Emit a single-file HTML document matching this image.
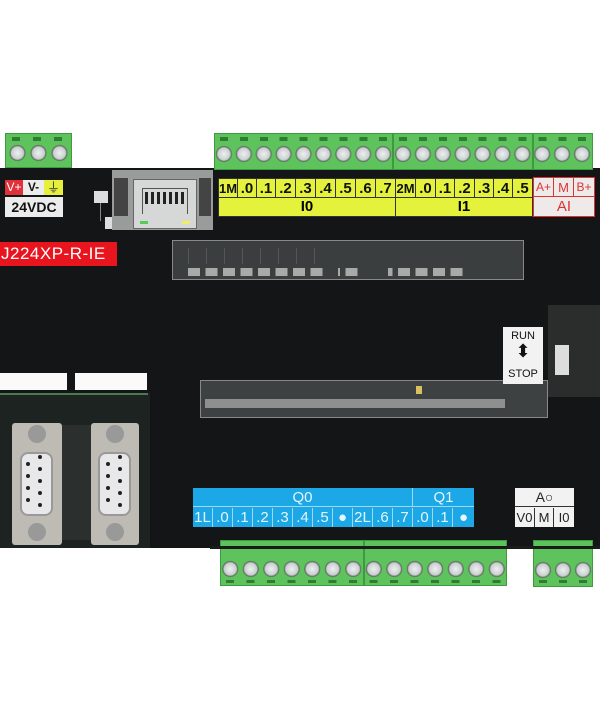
<!DOCTYPE html>
<html><head><meta charset="utf-8"><style>
body{margin:0;width:600px;height:720px;background:#fff;position:relative;overflow:hidden;font-family:"Liberation Sans",sans-serif}
div{position:absolute;box-sizing:border-box}
.term{background-color:#5fc35d;border:1px solid #3d9a3e}
.screws{background-image:radial-gradient(circle,#eef0f0 0,#c9cfd0 6px,#5d6d5d 7.5px,rgba(0,0,0,0) 8.5px);background-repeat:repeat-x}
.slots{background-repeat:repeat-x}
.cell{border-right:1px solid #333;text-align:center;font-weight:bold;color:#111;font-size:15px;top:0;height:100%}
.bc{color:#e6f6ff;font-size:15px;text-align:center;border-right:1px solid #9fd8f5;top:0;height:100%;line-height:19px}
.pcb{border:1px solid #888}
.pin{width:4px;height:4px;border-radius:50%;background:#222}
</style></head><body>
<!-- board -->
<div style="left:0;top:168px;width:600px;height:380px;background:#131516"></div>
<!-- top terminals -->
<div class="term" style="left:5px;top:133px;width:67px;height:35px"></div>
<div class="slots" style="left:5px;top:137px;width:67px;height:4px;background-image:repeating-linear-gradient(90deg,transparent 0 7px,#2f7d30 7px 15px,transparent 15px 21px)"></div>
<div class="screws" style="left:5px;top:143px;width:67px;height:20px;background-size:21px 20px;background-position:2px 0"></div>
<div class="term" style="left:214px;top:133px;width:179px;height:37px"></div>
<div class="term" style="left:393px;top:133px;width:140px;height:37px"></div>
<div class="term" style="left:533px;top:133px;width:60px;height:37px"></div>
<div class="slots" style="left:214px;top:137px;width:379px;height:4px;background-image:repeating-linear-gradient(90deg,transparent 0 6px,#2f7d30 6px 14px,transparent 14px 19.9px)"></div>
<div class="screws" style="left:214px;top:144px;width:379px;height:20px;background-size:19.9px 20px"></div>
<!-- power labels -->
<div style="left:5px;top:180px;width:18px;height:15px;background:#e0303a;color:#fff;font-size:12px;text-align:center;line-height:15px">V+</div>
<div style="left:23px;top:180px;width:21px;height:15px;background:#ececec;color:#111;font-size:12px;font-weight:bold;text-align:center;line-height:15px">V-</div>
<div style="left:44px;top:180px;width:19px;height:15px;background:#e6f03c;color:#333;font-size:13px;text-align:center;line-height:15px">⏚</div>
<div style="left:5px;top:197px;width:58px;height:20px;background:#ececec;color:#111;font-size:14px;font-weight:bold;text-align:center;line-height:20px">24VDC</div>
<!-- squares -->
<div style="left:94px;top:191px;width:14px;height:12px;background:#ddd"></div>
<div style="left:105px;top:217px;width:13px;height:12px;background:#ddd"></div>
<div style="left:100px;top:203px;width:1px;height:18px;background:#888"></div>
<!-- RJ45 -->
<div style="left:112px;top:170px;width:101px;height:60px;background:#9a9c9c"></div>
<div style="left:114px;top:178px;width:14px;height:38px;background:#444"></div>
<div style="left:199px;top:178px;width:12px;height:38px;background:#444"></div>
<div style="left:133px;top:179px;width:64px;height:50px;background:#d6d8d8;border:1px solid #666"></div>
<div style="left:142px;top:188px;width:46px;height:26px;border:1px solid #555;border-bottom:none;background-image:repeating-linear-gradient(90deg,#222 0 3px,transparent 3px 6px);background-size:46px 12px;background-repeat:no-repeat;background-position:2px 3px"></div>
<div style="left:140px;top:221px;width:8px;height:3px;background:#5c5"></div>
<div style="left:182px;top:221px;width:8px;height:3px;background:#ee6"></div>
<!-- I0/I1 labels -->
<div style="left:218px;top:178px;width:315px;height:39px;background:#e4f23c;border:1px solid #333">
 <div style="left:0;top:0;width:100%;height:19px;border-bottom:1px solid #333">
  <div class="cell" style="left:0;width:19px;font-size:13px;line-height:19px">1M</div>
  <div class="cell" style="left:19px;width:19px;line-height:19px">.0</div>
  <div class="cell" style="left:38px;width:19px;line-height:19px">.1</div>
  <div class="cell" style="left:57px;width:20px;line-height:19px">.2</div>
  <div class="cell" style="left:77px;width:20px;line-height:19px">.3</div>
  <div class="cell" style="left:97px;width:20px;line-height:19px">.4</div>
  <div class="cell" style="left:117px;width:20px;line-height:19px">.5</div>
  <div class="cell" style="left:137px;width:20px;line-height:19px">.6</div>
  <div class="cell" style="left:157px;width:20px;line-height:19px">.7</div>
  <div class="cell" style="left:177px;width:20px;font-size:13px;line-height:19px">2M</div>
  <div class="cell" style="left:197px;width:20px;line-height:19px">.0</div>
  <div class="cell" style="left:217px;width:19px;line-height:19px">.1</div>
  <div class="cell" style="left:236px;width:20px;line-height:19px">.2</div>
  <div class="cell" style="left:256px;width:19px;line-height:19px">.3</div>
  <div class="cell" style="left:275px;width:19px;line-height:19px">.4</div>
  <div class="cell" style="left:294px;width:19px;border:none;line-height:19px">.5</div>
 </div>
 <div style="left:0;top:19px;width:177px;height:18px;border-right:1px solid #333;text-align:center;font-weight:bold;font-size:15px;line-height:18px">I0</div>
 <div style="left:177px;top:19px;width:136px;height:18px;text-align:center;font-weight:bold;font-size:15px;line-height:18px">I1</div>
</div>
<div style="left:533px;top:177px;width:62px;height:40px;background:#eeeaea;border:1px solid #d33;color:#d33">
 <div style="left:0;top:0;width:20px;height:19px;border-right:1px solid #d33;border-bottom:1px solid #d33;font-size:12px;text-align:center;line-height:19px">A+</div>
 <div style="left:20px;top:0;width:20px;height:19px;border-right:1px solid #d33;border-bottom:1px solid #d33;font-size:13px;text-align:center;line-height:19px">M</div>
 <div style="left:40px;top:0;width:20px;height:19px;border-bottom:1px solid #d33;font-size:12px;text-align:center;line-height:19px">B+</div>
 <div style="left:0;top:19px;width:60px;height:19px;font-size:15px;text-align:center;line-height:19px">AI</div>
</div>
<!-- red model label -->
<div style="left:0;top:242px;width:117px;height:24px;background:#e8141e;color:#fff;font-size:17px;line-height:24px;padding-left:1px;letter-spacing:0.5px">J224XP-R-IE</div>
<!-- top LED strip -->
<div class="pcb" style="left:172px;top:240px;width:352px;height:40px;background:#3b3e3e"></div>
<div style="left:188px;top:248px;width:150px;height:16px;background-image:repeating-linear-gradient(90deg,#555 0 1px,transparent 1px 18px)"></div>
<div style="left:188px;top:268px;width:280px;height:8px;background-image:repeating-linear-gradient(90deg,#a8aaa8 0 12px,transparent 12px 17.5px)"></div>
<div style="left:328px;top:248px;width:10px;height:30px;background:#3b3e3e"></div>
<div style="left:358px;top:268px;width:30px;height:8px;background:#3b3e3e"></div>
<!-- middle strip -->
<div class="pcb" style="left:200px;top:380px;width:348px;height:38px;background:#3e4141"></div>
<div style="left:205px;top:399px;width:300px;height:9px;background:#8e908f"></div>
<div style="left:416px;top:386px;width:6px;height:8px;background:#d8c060"></div>
<!-- right pcb -->
<div style="left:548px;top:305px;width:52px;height:92px;background:#2a2d2c"></div>
<div style="left:555px;top:345px;width:14px;height:30px;background:#ddd"></div>
<!-- run/stop -->
<div style="left:503px;top:327px;width:40px;height:57px;background:#f2f2f2;color:#111;font-size:11px;text-align:center">
 <div style="left:0;top:3px;width:40px">RUN</div>
 <div style="left:0;top:14px;width:40px;font-size:18px;line-height:20px">⬍</div>
 <div style="left:0;top:41px;width:40px">STOP</div>
</div>
<!-- left white labels -->
<div style="left:0;top:373px;width:67px;height:17px;background:#fafafa"></div>
<div style="left:75px;top:373px;width:72px;height:17px;background:#fafafa"></div>
<!-- bottom left pcb -->
<div style="left:0;top:393px;width:150px;height:155px;background:#1d2321"></div>
<div style="left:0;top:393px;width:148px;height:2px;background:#4a7a50"></div>
<!-- DB9s -->
<div style="left:12px;top:423px;width:50px;height:122px;background:#bdbbb3;border-radius:3px"></div>
<div style="left:91px;top:423px;width:48px;height:122px;background:#bdbbb3;border-radius:3px"></div>
<div style="left:20px;top:452px;width:33px;height:64px;background:#e8e8ea;border-radius:8px;border:2px solid #999"></div>
<div style="left:98px;top:452px;width:33px;height:64px;background:#e8e8ea;border-radius:8px;border:2px solid #999"></div>
<div class="pin" style="left:26px;top:462px"></div><div class="pin" style="left:26px;top:474px"></div><div class="pin" style="left:26px;top:486px"></div><div class="pin" style="left:26px;top:498px"></div>
<div class="pin" style="left:38px;top:467px"></div><div class="pin" style="left:38px;top:479px"></div><div class="pin" style="left:38px;top:491px"></div><div class="pin" style="left:38px;top:503px"></div><div class="pin" style="left:38px;top:455px"></div>
<div class="pin" style="left:106px;top:462px"></div><div class="pin" style="left:106px;top:474px"></div><div class="pin" style="left:106px;top:486px"></div><div class="pin" style="left:106px;top:498px"></div>
<div class="pin" style="left:118px;top:467px"></div><div class="pin" style="left:118px;top:479px"></div><div class="pin" style="left:118px;top:491px"></div><div class="pin" style="left:118px;top:503px"></div><div class="pin" style="left:118px;top:455px"></div>
<div style="left:28px;top:425px;width:18px;height:18px;border-radius:50%;background:#999"></div>
<div style="left:28px;top:523px;width:18px;height:18px;border-radius:50%;background:#999"></div>
<div style="left:106px;top:425px;width:18px;height:18px;border-radius:50%;background:#999"></div>
<div style="left:106px;top:523px;width:18px;height:18px;border-radius:50%;background:#999"></div>
<div style="left:62px;top:425px;width:29px;height:115px;background:#2b2f2e"></div>
<!-- Q labels -->
<div style="left:193px;top:488px;width:281px;height:39px;background:#1ca8e6;color:#e6f6ff">
 <div style="left:0;top:0;width:220px;height:19px;border-right:1px solid #9fd8f5;border-bottom:1px solid #9fd8f5;text-align:center;font-size:15px;line-height:19px">Q0</div>
 <div style="left:220px;top:0;width:61px;height:19px;border-bottom:1px solid #9fd8f5;text-align:center;font-size:15px;line-height:19px">Q1</div>
 <div style="left:0;top:20px;width:281px;height:19px">
  <div class="bc" style="left:0;width:20px">1L</div>
  <div class="bc" style="left:20px;width:20px">.0</div>
  <div class="bc" style="left:40px;width:20px">.1</div>
  <div class="bc" style="left:60px;width:20px">.2</div>
  <div class="bc" style="left:80px;width:20px">.3</div>
  <div class="bc" style="left:100px;width:20px">.4</div>
  <div class="bc" style="left:120px;width:20px">.5</div>
  <div class="bc" style="left:140px;width:20px">●</div>
  <div class="bc" style="left:160px;width:20px">2L</div>
  <div class="bc" style="left:180px;width:20px">.6</div>
  <div class="bc" style="left:200px;width:20px">.7</div>
  <div class="bc" style="left:220px;width:20px">.0</div>
  <div class="bc" style="left:240px;width:20px">.1</div>
  <div class="bc" style="left:260px;width:21px;border:none">●</div>
 </div>
</div>
<!-- AQ -->
<div style="left:515px;top:488px;width:59px;height:39px;background:#f2f2f2;color:#222;font-size:14px">
 <div style="left:0;top:0;width:59px;height:19px;border-bottom:1px solid #333;text-align:center;line-height:19px">A○</div>
 <div style="left:0;top:20px;width:20px;height:19px;border-right:1px solid #333;text-align:center;line-height:19px;font-size:13px">V0</div>
 <div style="left:20px;top:20px;width:19px;height:19px;border-right:1px solid #333;text-align:center;line-height:19px;font-size:13px">M</div>
 <div style="left:39px;top:20px;width:20px;height:19px;text-align:center;line-height:19px;font-size:13px">I0</div>
</div>
<!-- bottom terminals -->
<div class="term" style="left:220px;top:540px;width:144px;height:46px"></div>
<div class="term" style="left:364px;top:540px;width:143px;height:46px"></div>
<div class="term" style="left:533px;top:540px;width:60px;height:47px"></div>
<div style="left:210px;top:546px;width:390px;height:3px;background:#1a1c1c"></div>
<div class="screws" style="left:220px;top:559px;width:287px;height:20px;background-size:20.5px 20px"></div>
<div class="screws" style="left:533px;top:560px;width:60px;height:20px;background-size:20px 20px"></div>
<div class="slots" style="left:220px;top:580px;width:287px;height:3px;background-image:repeating-linear-gradient(90deg,transparent 0 6px,#2f7d30 6px 14px,transparent 14px 20.5px)"></div>
<div class="slots" style="left:533px;top:580px;width:60px;height:3px;background-image:repeating-linear-gradient(90deg,transparent 0 6px,#2f7d30 6px 14px,transparent 14px 20px)"></div>
</body></html>
